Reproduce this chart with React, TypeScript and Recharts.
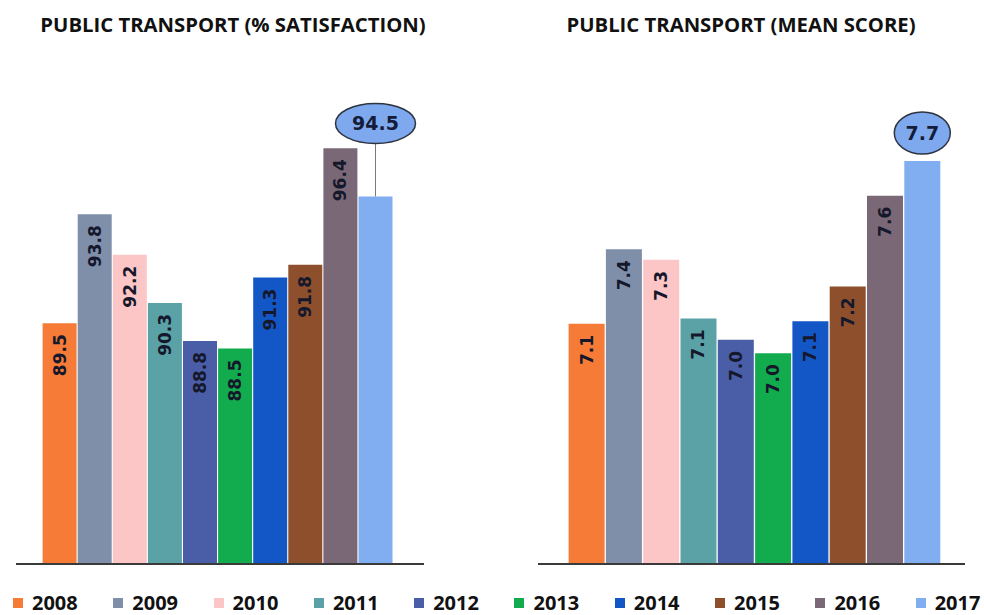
import { BarChart, Bar, XAxis, YAxis, Cell, LabelList } from 'recharts';

const years = ['2008', '2009', '2010', '2011', '2012', '2013', '2014', '2015', '2016', '2017'];
const satisfaction = [89.5, 93.8, 92.2, 90.3, 88.8, 88.5, 91.3, 91.8, 96.4, 94.5];
const meanScore = [7.1, 7.38, 7.34, 7.12, 7.04, 6.99, 7.11, 7.24, 7.58, 7.71];
const colors = ['#F57B37', '#7F8FAA', '#FCC5C6', '#5BA2A7', '#4A5EA8', '#12AC4E', '#1357C6', '#8E4F2D', '#7A6876', '#80AEF0'];

const labelFont = '"DejaVu Sans", Verdana, sans-serif';
const titleFont = '"Open Sans", "Noto Sans", sans-serif';

type CalloutCfg = { dy: number; rx: number; ry: number; line: boolean };

function makeLabel(count: number, callout: CalloutCfg) {
  return (props: any) => {
    const { x, y, width, value, index } = props;
    const cx = Number(x) + Number(width) / 2;
    const top = Number(y);
    const text = Number(value).toFixed(1);
    if (index === count - 1) {
      const cy = top - callout.dy;
      return (
        <g>
          {callout.line && (
            <line x1={cx} y1={cy + callout.ry} x2={cx} y2={top} stroke="#7a7a7a" strokeWidth={1} />
          )}
          <ellipse cx={cx} cy={cy} rx={callout.rx} ry={callout.ry} fill="#7EA9EE" stroke="#2e3440" strokeWidth={1.5} />
          <text x={cx} y={cy} textAnchor="middle" dominantBaseline="central"
            fontFamily={labelFont} fontWeight="bold" fontSize={19} fill="#141c3a">
            {text}
          </text>
        </g>
      );
    }
    const ay = top + 11;
    return (
      <text x={cx} y={ay} textAnchor="end" dominantBaseline="central"
        transform={`rotate(-90, ${cx}, ${ay})`}
        fontFamily={labelFont} fontWeight="bold" fontSize={17} fill="#15172b">
        {text}
      </text>
    );
  };
}

type PanelProps = {
  title: string;
  values: number[];
  domain: [number, number];
  left: number;
  titleCenter: number;
  margin: { top: number; right: number; bottom: number; left: number };
  padding: { left: number; right: number };
  gap: number;
  callout: CalloutCfg;
};

function Panel({ title, values, domain, left, titleCenter, margin, padding, gap, callout }: PanelProps) {
  const data = years.map((year, i) => ({ year, value: values[i] }));
  return (
    <>
      <div style={{
        position: 'absolute', left: titleCenter - 250, width: 500, top: 11, textAlign: 'center',
        fontFamily: titleFont, fontWeight: 700, fontSize: 20.3, lineHeight: '26px', color: '#111',
      }}>
        {title}
      </div>
      <div style={{ position: 'absolute', left, top: 0 }}>
        <BarChart width={492} height={615} data={data} margin={margin} barCategoryGap={gap}>
          <XAxis dataKey="year" tick={false} tickLine={false} height={2}
            axisLine={{ stroke: '#3a3a3a', strokeWidth: 2 }} padding={padding} />
          <YAxis hide domain={domain} allowDataOverflow />
          <Bar dataKey="value" isAnimationActive={false}>
            {data.map((d, i) => (
              <Cell key={d.year} fill={colors[i]} />
            ))}
            <LabelList dataKey="value" content={makeLabel(values.length, callout)} />
          </Bar>
        </BarChart>
      </div>
    </>
  );
}

export default function App() {
  return (
    <div style={{ position: 'absolute', left: 0, top: 0, width: 984, height: 615, background: '#fff', overflow: 'hidden' }}>
      <Panel
        title="PUBLIC TRANSPORT (% SATISFACTION)"
        values={satisfaction}
        domain={[80, 100]}
        left={0}
        titleCenter={233}
        margin={{ top: 57, right: 68, bottom: 49, left: 16 }}
        padding={{ left: 26, right: 31 }}
        gap={0.6}
        callout={{ dy: 73, rx: 40, ry: 20, line: true }}
      />
      <Panel
        title="PUBLIC TRANSPORT (MEAN SCORE)"
        values={meanScore}
        domain={[6.2, 8.1]}
        left={492}
        titleCenter={741}
        margin={{ top: 57, right: 19, bottom: 49, left: 46 }}
        padding={{ left: 30, right: 24 }}
        gap={0.6}
        callout={{ dy: 28, rx: 28, ry: 21, line: false }}
      />
      <div style={{ position: 'absolute', left: 13, top: 593, display: 'flex' }}>
        {years.map((year, i) => (
          <div key={year} style={{ width: 100.3, display: 'flex', alignItems: 'center' }}>
            <span style={{ width: 10, height: 10, background: colors[i], marginRight: 9, display: 'inline-block' }} />
            <span style={{ fontFamily: titleFont, fontWeight: 700, fontSize: 20, lineHeight: '20px', color: '#111' }}>
              {year}
            </span>
          </div>
        ))}
      </div>
    </div>
  );
}
